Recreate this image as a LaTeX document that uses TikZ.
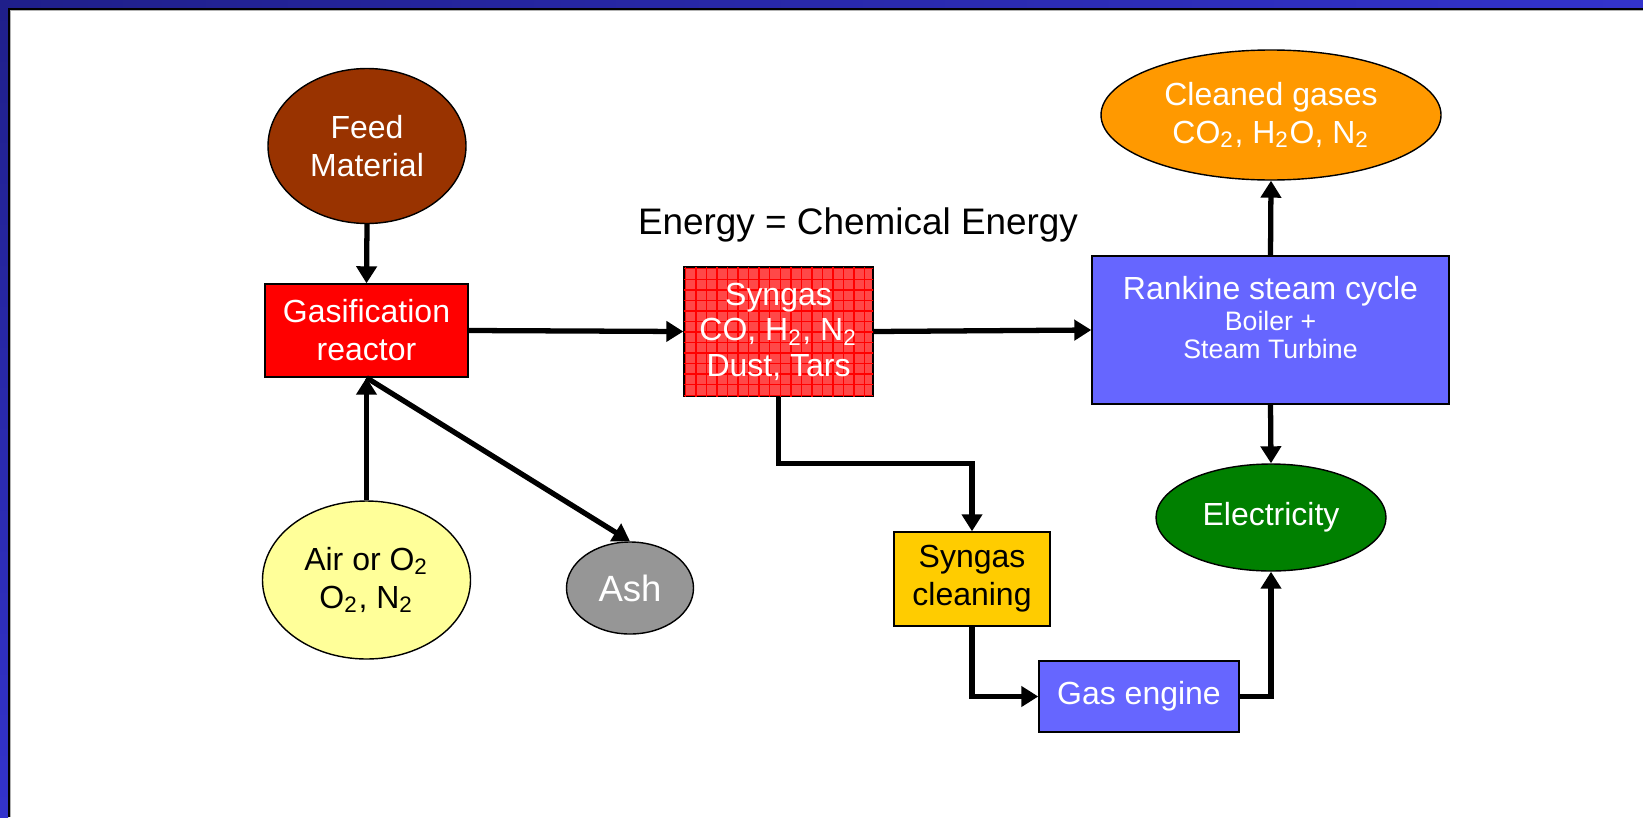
\documentclass[tikz,border=0pt]{standalone}
\usepackage{fontspec}
\setmainfont{Liberation Sans}
\usetikzlibrary{shapes.geometric,arrows.meta,patterns}

\definecolor{frameblue}{RGB}{51,51,204}
\definecolor{framenavy}{RGB}{31,31,138}
\definecolor{feedbrown}{RGB}{153,51,0}
\definecolor{reactorred}{RGB}{255,0,0}
\definecolor{syngasred}{RGB}{255,72,72}
\definecolor{cycleblue}{RGB}{102,102,255}
\definecolor{gasorange}{RGB}{255,153,0}
\definecolor{powergreen}{RGB}{0,128,0}
\definecolor{cleanyellow}{RGB}{255,204,0}
\definecolor{airyellow}{RGB}{255,255,153}
\definecolor{ashgray}{RGB}{150,150,150}

\newcommand{\boxfont}{\fontsize{9.1}{10.8}\selectfont}
\newcommand{\smallboxfont}{\fontsize{7.6}{8.2}\selectfont}

\begin{document}
\begin{tikzpicture}[
		box/.style={draw=black, line width=0.4pt, align=center, inner sep=0pt, font=\boxfont},
		oval/.style={ellipse, draw=black, line width=0.4pt, align=center, inner sep=0pt, font=\boxfont},
		flow/.style={line width=1.5pt, -{Triangle[length=0.17cm,width=0.2cm]}}
	]
		\useasboundingbox (0,0) rectangle (16.43,-8.17);
		
		% slide frame
		\shade[left color=framenavy, right color=frameblue] (0,0) rectangle (16.43,-0.08);
		\shade[top color=framenavy, bottom color=frameblue] (0,0) rectangle (0.08,-8.17);
		\draw[gray!60, line width=0.4pt] (0.105,-8.17) -- (0.105,-0.105) -- (16.43,-0.105);
		\draw[black, line width=0.5pt] (0.09,-8.17) -- (0.09,-0.09) -- (16.43,-0.09);
		
		\node[oval, fill=feedbrown, text=white, minimum width=1.98cm, minimum height=1.55cm] (feed) at (3.67,-1.46) {Feed\\Material};
		\node[box, fill=reactorred, text=white, minimum width=2.03cm, minimum height=0.93cm] (gasif) at (3.665,-3.305) {Gasification\\reactor};
		
		\node[box, fill=syngasred, text=white, minimum width=1.89cm, minimum height=1.29cm,
			postaction={pattern=grid, pattern color=red}, font=\fontsize{9.1}{10.1}\selectfont] (syngas) at (7.785,-3.315)
			{Syngas\\CO, H\textsubscript{2}, N\textsubscript{2}\\Dust, Tars};
		\node (energy) at (8.58,-2.25) {\fontsize{10.5}{12}\selectfont Energy = Chemical Energy};
		
		\node[box, fill=cycleblue, text=white, minimum width=3.57cm, minimum height=1.48cm] (rankine) at (12.705,-3.30) {};
		\node[align=center, anchor=north, text=white, font=\boxfont, inner sep=0pt] (rankinetext) at ([yshift=-0.2cm]rankine.north)
			{Rankine steam cycle\\[-0.07cm]\smallboxfont Boiler +\\[-0.1cm]\smallboxfont Steam Turbine};
		\node[oval, fill=gasorange, text=white, minimum width=3.40cm, minimum height=1.30cm] (cleaned) at (12.71,-1.15)
			{Cleaned gases\\CO\textsubscript{2}, H\textsubscript{2}O, N\textsubscript{2}};
		\node[oval, fill=powergreen, text=white, minimum width=2.30cm, minimum height=1.07cm] (elec) at (12.71,-5.175) {Electricity};
		
		\node[box, fill=cleanyellow, minimum width=1.56cm, minimum height=0.94cm] (cleaning) at (9.72,-5.79) {Syngas\\cleaning};
		\node[box, fill=cycleblue, text=white, minimum width=2.00cm, minimum height=0.71cm, text depth=0.08cm] (engine) at (11.39,-6.965) {Gas engine};
		
		\node[oval, fill=airyellow, minimum width=2.08cm, minimum height=1.58cm] (air) at (3.665,-5.80) {Air or O\textsubscript{2}\\O\textsubscript{2}, N\textsubscript{2}};
		\node[oval, fill=ashgray, text=white, minimum width=1.27cm, minimum height=0.92cm, font=\fontsize{10.4}{12}\selectfont] (ash) at (6.30,-5.88) {Ash};
		
		\draw[flow] (feed.south) -- (gasif.north);
		\draw[flow] (air.north) -- (gasif.south);
		\draw[flow] (gasif.south) -- (ash.north);
		\draw[flow] (gasif.east) -- (syngas.west);
		
		\draw[flow] (syngas.east) -- (rankine.west);
		\draw[flow] (syngas.south) -- ++(0,-0.67) -| (cleaning.north);
		\draw[flow] (cleaning.south) |- (engine.west);
		\draw[flow] (engine.east) -| (elec.south);
		
		\draw[flow] (rankine.south) -- (elec.north);
		\draw[flow] (rankine.north) -- (cleaned.south);
	\end{tikzpicture}
\end{document}
